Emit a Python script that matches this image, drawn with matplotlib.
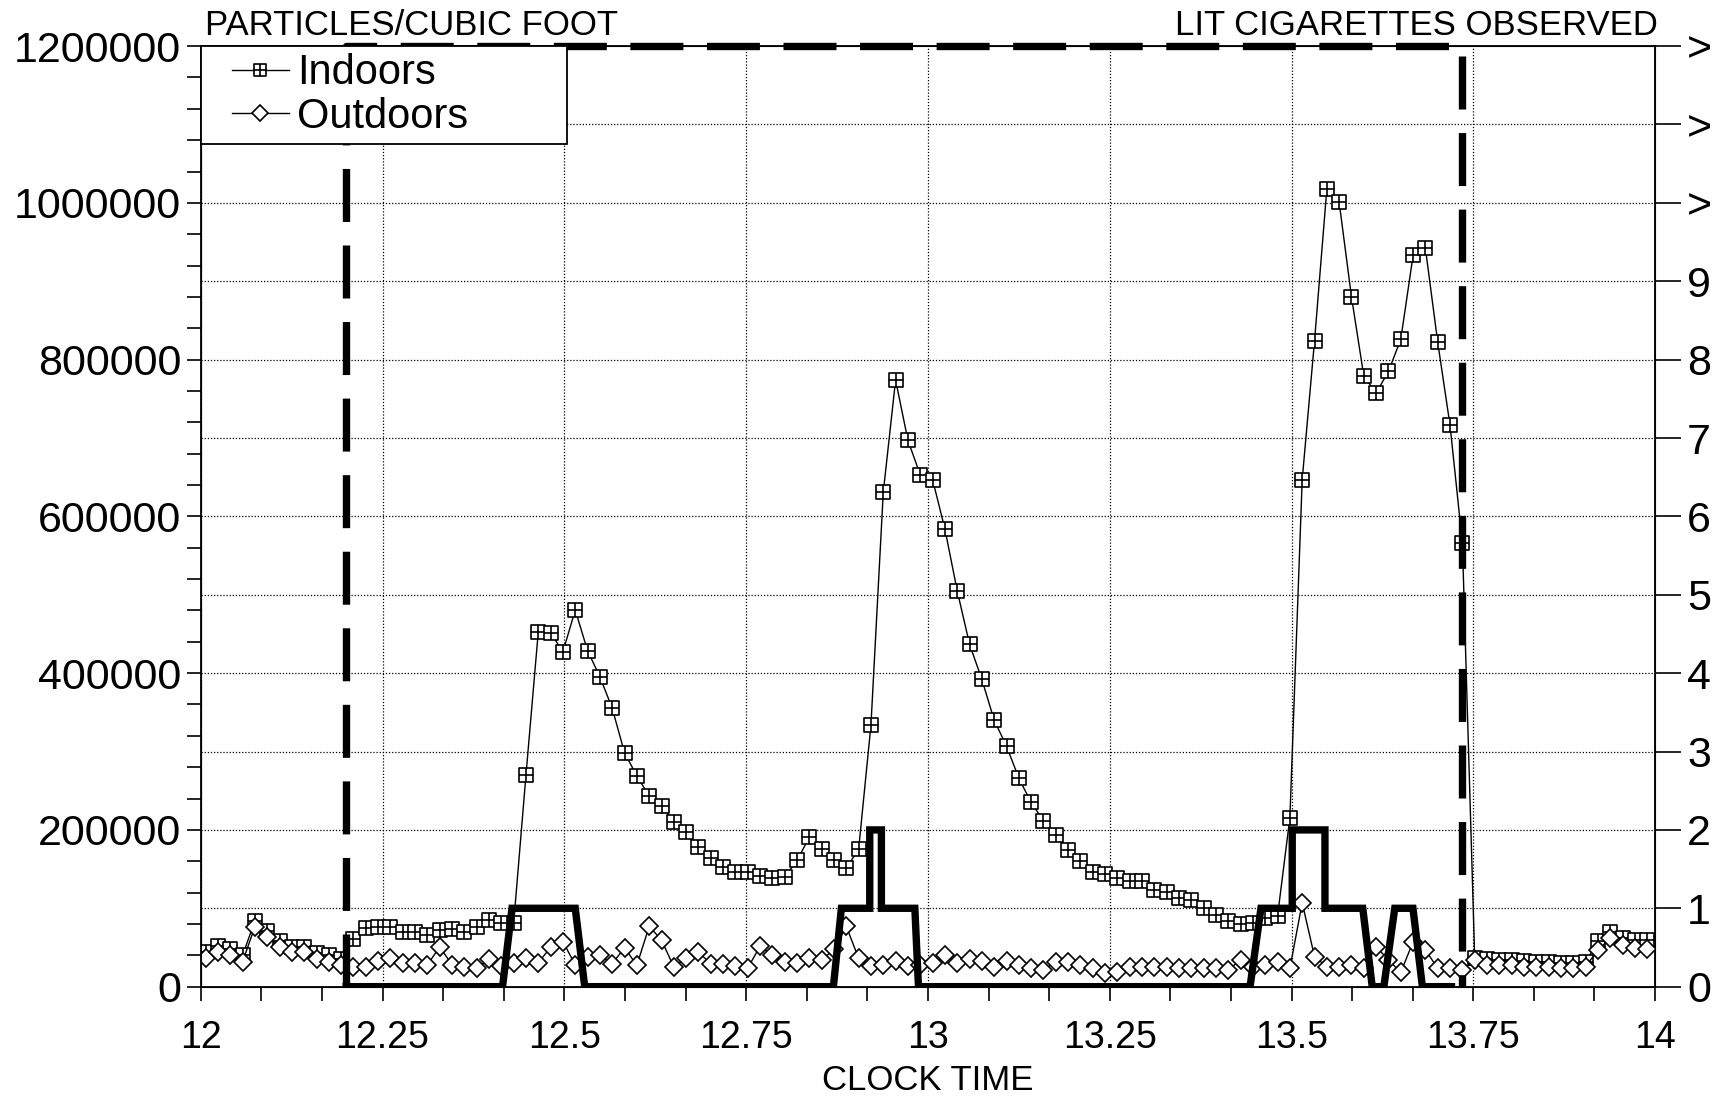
import numpy as np
import matplotlib
matplotlib.use("Agg")
import matplotlib.pyplot as plt
from matplotlib.path import Path
from matplotlib.ticker import MultipleLocator, FixedLocator
from matplotlib.legend_handler import HandlerLine2D

plt.rcParams['font.family'] = ['Liberation Sans', 'DejaVu Sans']

# samples roughly every 61 seconds starting just after 12:00
n_samples = 118
minutes = 0.4 + np.arange(n_samples) * 61 / 60
clock = 12 + minutes / 60

indoors = [
    44000, 52000, 48000, 40000, 84000, 71000, 58000, 51000, 51000, 43000, 40000, 35000,
    60400, 74500, 76500, 76500, 70200, 70200, 66000, 72300, 73200, 70200, 76500, 85100,
    81600, 80900,
    270000, 452800, 451500, 427300, 480500, 428600, 395400, 355100, 298500, 268700,
    243200, 230500, 209700, 197700, 178600, 164500, 153100, 145900, 145900, 141200,
    138300, 140300,
    161000, 190700, 175400, 161800, 151300, 175400, 334000, 631000, 774000, 697000,
    653000, 647000, 584000, 505000, 437000, 392000, 340000, 307000, 266000, 235000,
    211700, 193000, 174600, 159700, 146500, 143500, 139200, 135000, 134500, 123500,
    120500, 112800, 110000, 100900, 91500, 83400, 80000, 81800, 88000, 90200,
    215700, 647000, 824000, 1018000, 1000700, 880000, 779000, 757500, 785000, 826000,
    933000, 942000, 822000, 716000, 566000,
    37000, 35000, 34000, 34000, 33000, 32000, 31000, 30000, 30000, 31000,
    58000, 70000, 62000, 60000, 59000,
]

outdoors = [
    36000, 44600, 40400, 31900, 76500, 63800, 51000, 43900, 43900, 35000, 31900, 27700,
    25500, 25500, 33200, 36200, 29800, 29800, 27700, 51000, 27700, 25500, 23500, 35000,
    26500, 30000, 36200, 30500, 50300, 57500, 27700, 37600, 39800, 29500, 49500, 27300,
    77000, 59500, 25200, 36800, 43800, 29400, 28400, 26900, 23700, 51700, 40000, 31800,
    29700, 36000, 33900, 47500, 77100, 36000, 26700, 27500, 32600, 26700, 28000, 29700,
    40000, 29700, 35200, 32600, 25400, 32200, 27600, 23400, 21000, 31900, 31900, 27700,
    23400, 17000, 19100, 25500, 25500, 25500, 25500, 23400, 23400, 23400, 23400, 21300,
    34000, 25500, 27700, 31900, 23400, 107000, 38300, 25500, 25500, 27700, 23400, 51100,
    34000, 18300, 57400, 46800, 23400, 23400, 21300, 34000, 27700, 27700, 27700, 25500,
    25500, 25500, 23400, 23400, 25500, 46800, 61700, 53200, 48900, 48100,
]

# lit cigarettes observed (right axis)
cig_time = [12.2, 12.415, 12.428, 12.515, 12.528, 12.87, 12.881, 12.92, 12.92, 12.936,
            12.936, 12.982, 12.987, 13.443, 13.458, 13.501, 13.501, 13.546, 13.546,
            13.598, 13.611, 13.627, 13.642, 13.667, 13.680, 13.72]
cig_count = [0, 0, 1, 1, 0, 0, 1, 1, 2, 2, 1, 1, 0, 0, 1, 1, 2, 2, 1, 1, 0, 0, 1, 1, 0, 0]

# indoor period boundary (dashed box)
box_time = [12.2, 12.2, 13.734, 13.734]
box_level = [0, 12, 12, 0]

x_ticks = [12, 12.25, 12.5, 12.75, 13, 13.25, 13.5, 13.75, 14]
x_labels = ['12', '12.25', '12.5', '12.75', '13', '13.25', '13.5', '13.75', '14']
y_ticks = [0, 200000, 400000, 600000, 800000, 1000000, 1200000]
right_ticks = list(range(13))
right_labels = ['0', '1', '2', '3', '4', '5', '6', '7', '8', '9', '>', '>', '>']

# square with a plus inside
plus_square = Path(
    [(-1, -1), (1, -1), (1, 1), (-1, 1), (-1, -1), (0, -1), (0, 1), (-1, 0), (1, 0)],
    [Path.MOVETO, Path.LINETO, Path.LINETO, Path.LINETO, Path.CLOSEPOLY,
     Path.MOVETO, Path.LINETO, Path.MOVETO, Path.LINETO])

fig = plt.figure(figsize=(17.16, 10.98), dpi=100)
ax = fig.add_axes([0.117, 0.1014, 0.8475, 0.8566])

ln_in, = ax.plot(clock, indoors, color='black', lw=1.0, marker=plus_square,
                 markersize=9.5, markerfacecolor='white', markeredgecolor='black',
                 markeredgewidth=1.2, zorder=3, label='Indoors')
ln_out, = ax.plot(clock, outdoors, color='black', lw=1.0, marker='D',
                  markersize=9, markerfacecolor='white', markeredgecolor='black',
                  markeredgewidth=1.2, zorder=4, label='Outdoors')

ax.set_xlim(12, 14)
ax.set_ylim(0, 1200000)
ax.set_xticks(x_ticks)
ax.set_xticklabels(x_labels)
ax.xaxis.set_minor_locator(MultipleLocator(1 / 12))
ax.set_yticks(y_ticks)
ax.set_yticklabels([str(v) for v in y_ticks])
ax.yaxis.set_minor_locator(MultipleLocator(40000))
ax.tick_params(axis='x', which='both', direction='out', length=10, width=1.2,
               labelsize=27, pad=14)
ax.tick_params(axis='y', which='both', direction='out', length=10, width=1.2,
               labelsize=31, pad=4)

# grid: every 0.25 h and every 100000
ax.xaxis.grid(True, which='major', linestyle=(0, (1, 1.5)), color='black', lw=0.9)
for lev in range(100000, 1200000, 100000):
    ax.axhline(lev, linestyle=(0, (1, 1.5)), color='black', lw=0.9, zorder=1)
ax.set_axisbelow(True)

for s in ax.spines.values():
    s.set_linewidth(1.3)

ax.set_xlabel('CLOCK TIME', fontsize=25, labelpad=6)

ax2 = ax.twinx()
ax2.set_ylim(0, 12)
ax2.yaxis.set_major_locator(FixedLocator(right_ticks))
ax2.set_yticklabels(right_labels)
ax2.tick_params(axis='y', direction='out', length=19, width=1.2, labelsize=31, pad=4)

ax2.plot(cig_time, cig_count, color='black', lw=5.3, solid_joinstyle='miter', zorder=5)
ax2.plot(box_time, box_level, color='black', lw=5.3, dashes=(7.2, 3.2),
         clip_on=False, zorder=5)

leg = ax2.legend(handles=[ln_in, ln_out], loc='upper left',
                 bbox_to_anchor=(0, 0, 0.252, 1.0), mode='expand',
                 fontsize=30, frameon=True, fancybox=False, framealpha=1,
                 edgecolor='black', borderaxespad=0, borderpad=0.17,
                 labelspacing=0.08, handlelength=1.94, handletextpad=0.2,
                 markerscale=0.9,
                 handler_map={ln_in: HandlerLine2D(xpad=0.57),
                              ln_out: HandlerLine2D(xpad=0.57)})
leg.get_frame().set_linewidth(1.3)
leg.set_zorder(10)

fig.text(205 / 1716, 1 - 35 / 1098, 'PARTICLES/CUBIC FOOT', fontsize=25,
         ha='left', va='baseline')
fig.text(1658 / 1716, 1 - 35 / 1098, 'LIT CIGARETTES OBSERVED', fontsize=25,
         ha='right', va='baseline')

fig.savefig('out.png', dpi=100)
